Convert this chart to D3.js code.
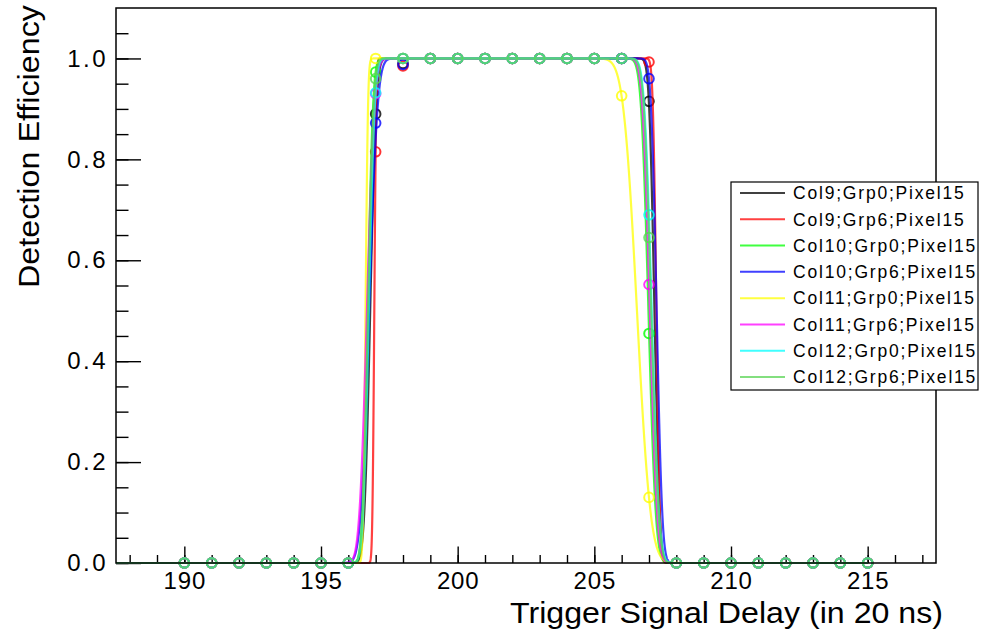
<!DOCTYPE html>
<html>
<head>
<meta charset="utf-8">
<script src="https://cdn.jsdelivr.net/npm/d3@7"></script>
<style>
  html, body { margin: 0; padding: 0; background: #fff; }
  svg { display: block; }
  text { font-family: "Liberation Sans", Arial, Helvetica, sans-serif; fill: #000; }
</style>
</head>
<body>
<div id="chart"></div>
<script>
// ---------------- data ----------------
const delays = [190,191,192,193,194,195,196,197,198,199,200,201,202,203,204,205,206,207,208,209,210,211,212,213,214,215];

const seriesNames = [
  "Col9;Grp0;Pixel15", "Col9;Grp6;Pixel15",
  "Col10;Grp0;Pixel15", "Col10;Grp6;Pixel15",
  "Col11;Grp0;Pixel15", "Col11;Grp6;Pixel15",
  "Col12;Grp0;Pixel15", "Col12;Grp6;Pixel15"
];

const col9grp0  = [0,0,0,0,0,0,0,0.89, 0.99, 1,1,1,1,1,1,1,1.0,  0.915,0,0,0,0,0,0,0,0];
const col9grp6  = [0,0,0,0,0,0,0,0.815,0.985,1,1,1,1,1,1,1,1.0,  0.993,0,0,0,0,0,0,0,0];
const col10grp0 = [0,0,0,0,0,0,0,0.973,1.0,  1,1,1,1,1,1,1,1.0,  0.455,0,0,0,0,0,0,0,0];
const col10grp6 = [0,0,0,0,0,0,0,0.872,0.988,1,1,1,1,1,1,1,1.0,  0.96, 0,0,0,0,0,0,0,0];
const col11grp0 = [0,0,0,0,0,0,0,1.0,  1.0,  1,1,1,1,1,1,1,0.926,0.13, 0,0,0,0,0,0,0,0];
const col11grp6 = [0,0,0,0,0,0,0,0.93, 1.0,  1,1,1,1,1,1,1,1.0,  0.552,0,0,0,0,0,0,0,0];
const col12grp0 = [0,0,0,0,0,0,0,0.932,1.0,  1,1,1,1,1,1,1,1.0,  0.69, 0,0,0,0,0,0,0,0];
const col12grp6 = [0,0,0,0,0,0,0,0.96, 1.0,  1,1,1,1,1,1,1,1.0,  0.645,0,0,0,0,0,0,0,0];

// fit parameters (rising edge / falling edge of each error-function fit)
const fitRiseMu    = [196.80, 196.95, 196.71, 196.76, 196.63, 196.68, 196.75, 196.72];
const fitRiseSigma = [0.17,   0.055,  0.15,   0.24,   0.07,   0.215,  0.168,  0.16];
const fitFallMu    = [207.20, 207.27, 206.98, 207.28, 206.56, 207.03, 207.10, 207.08];
const fitFallSigma = [0.15,   0.10,   0.21,   0.16,   0.39,   0.21,   0.21,   0.21];

const xTickLabels = [190, 195, 200, 205, 210, 215];
const yTickLabels = [0.0, 0.2, 0.4, 0.6, 0.8, 1.0];

const xTitle = "Trigger Signal Delay (in 20 ns)";
const yTitle = "Detection Efficiency";

const seriesValues = [col9grp0, col9grp6, col10grp0, col10grp6, col11grp0, col11grp6, col12grp0, col12grp6];
const colors = ["#000000", "#ff0000", "#00ff00", "#0000ff", "#ffff00", "#ff00ff", "#00ffff", "#59d454"];

// ---------------- layout ----------------
const W = 990, H = 637;
const frame = { left: 116, right: 936, top: 8, bottom: 563 };

const svg = d3.select("#chart").append("svg").attr("width", W).attr("height", H);

const x = d3.scaleLinear().domain([187.5, 217.5]).range([frame.left, frame.right]);
const y = d3.scaleLinear().domain([0, 1.1]).range([frame.bottom, frame.top]);

// axes
const xMinor = d3.range(188, 218, 1);
const yMinor = d3.range(0, 1.0501, 0.05);

const gx = svg.append("g").attr("transform", `translate(0,${frame.bottom})`);
gx.call(d3.axisBottom(x).tickValues(xMinor).tickSizeInner(-8).tickSizeOuter(0).tickFormat(""));
gx.call(g => g.select(".domain").remove());
const gx2 = svg.append("g").attr("transform", `translate(0,${frame.bottom})`);
gx2.call(d3.axisBottom(x).tickValues(xTickLabels).tickSizeInner(-16.5).tickSizeOuter(0).tickPadding(9).tickFormat(d3.format("d")));
gx2.call(g => g.select(".domain").remove());
gx2.selectAll("text").attr("font-size", 24).attr("letter-spacing", 0.8).attr("font-family", "Liberation Sans, Arial, sans-serif").attr("fill", "#000");

const gy = svg.append("g").attr("transform", `translate(${frame.left},0)`);
gy.call(d3.axisLeft(y).tickValues(yMinor).tickSizeInner(-12.5).tickSizeOuter(0).tickFormat(""));
gy.call(g => g.select(".domain").remove());
const gy2 = svg.append("g").attr("transform", `translate(${frame.left},0)`);
gy2.call(d3.axisLeft(y).tickValues(yTickLabels).tickSizeInner(-25).tickSizeOuter(0).tickPadding(8).tickFormat(d3.format(".1f")));
gy2.call(g => g.select(".domain").remove());
gy2.selectAll("text").attr("font-size", 24).attr("letter-spacing", 2.5).attr("font-family", "Liberation Sans, Arial, sans-serif").attr("fill", "#000");

svg.selectAll(".tick line").attr("stroke", "#000").attr("stroke-width", 1.4);

// erf (Abramowitz & Stegun 7.1.26)
function erf(t) {
  const s = t < 0 ? -1 : 1; t = Math.abs(t);
  const a1 = 0.254829592, a2 = -0.284496736, a3 = 1.421413741, a4 = -1.453152027, a5 = 1.061405429, p = 0.3275911;
  const k = 1 / (1 + p * t);
  const yv = 1 - (((((a5 * k + a4) * k) + a3) * k + a2) * k + a1) * k * Math.exp(-t * t);
  return s * yv;
}
function fitFn(i, v) {
  const r = 0.5 * (1 + erf((v - fitRiseMu[i]) / (Math.SQRT2 * fitRiseSigma[i])));
  const f = 0.5 * (1 + erf((fitFallMu[i] - v) / (Math.SQRT2 * fitFallSigma[i])));
  return r * f;
}

const plot = svg.append("g");
const line = d3.line().x(d => x(d[0])).y(d => y(d[1]));
const xsFit = d3.range(187.5, 215.0001, 0.005);

seriesValues.forEach((vals, i) => {
  const g = plot.append("g");
  // markers (open circles)
  g.selectAll("circle").data(delays.map((d, j) => [d, vals[j]])).join("circle")
    .attr("cx", d => x(d[0])).attr("cy", d => y(d[1])).attr("r", 4.8)
    .attr("fill", "none").attr("stroke", colors[i]).attr("stroke-width", 2).attr("opacity", 0.8);
  // fit curve
  g.append("path").datum(xsFit.map(v => [v, fitFn(i, v)]))
    .attr("d", line).attr("fill", "none").attr("stroke", colors[i])
    .attr("stroke-width", 2.2).attr("stroke-opacity", 0.75);
});

// frame
svg.append("rect").attr("x", frame.left).attr("y", frame.top)
  .attr("width", frame.right - frame.left).attr("height", frame.bottom - frame.top)
  .attr("fill", "none").attr("stroke", "#000").attr("stroke-width", 1.5);

// titles
svg.append("text").attr("x", 943).attr("y", 623).attr("text-anchor", "end")
  .attr("font-size", 30).attr("textLength", 433).attr("lengthAdjust", "spacingAndGlyphs").text(xTitle);
svg.append("text").attr("transform", "rotate(-90)").attr("x", -5).attr("y", 39)
  .attr("text-anchor", "end").attr("font-size", 30).attr("textLength", 283).attr("lengthAdjust", "spacingAndGlyphs").text(yTitle);

// legend
const lg = svg.append("g");
lg.append("rect").attr("x", 731).attr("y", 182).attr("width", 247).attr("height", 208)
  .attr("fill", "#fff").attr("stroke", "#000").attr("stroke-width", 1.2);
const rowY = d3.scaleLinear().domain([0, 7]).range([193, 377]);
seriesNames.forEach((nm, i) => {
  lg.append("line").attr("x1", 740).attr("x2", 785).attr("y1", rowY(i)).attr("y2", rowY(i))
    .attr("stroke", colors[i]).attr("stroke-width", 2).attr("stroke-opacity", 0.75);
  lg.append("text").attr("x", 793).attr("y", rowY(i)).attr("dy", "0.36em")
    .attr("font-size", 17.5).attr("letter-spacing", 1.8).text(nm);
});
</script>
</body>
</html>
